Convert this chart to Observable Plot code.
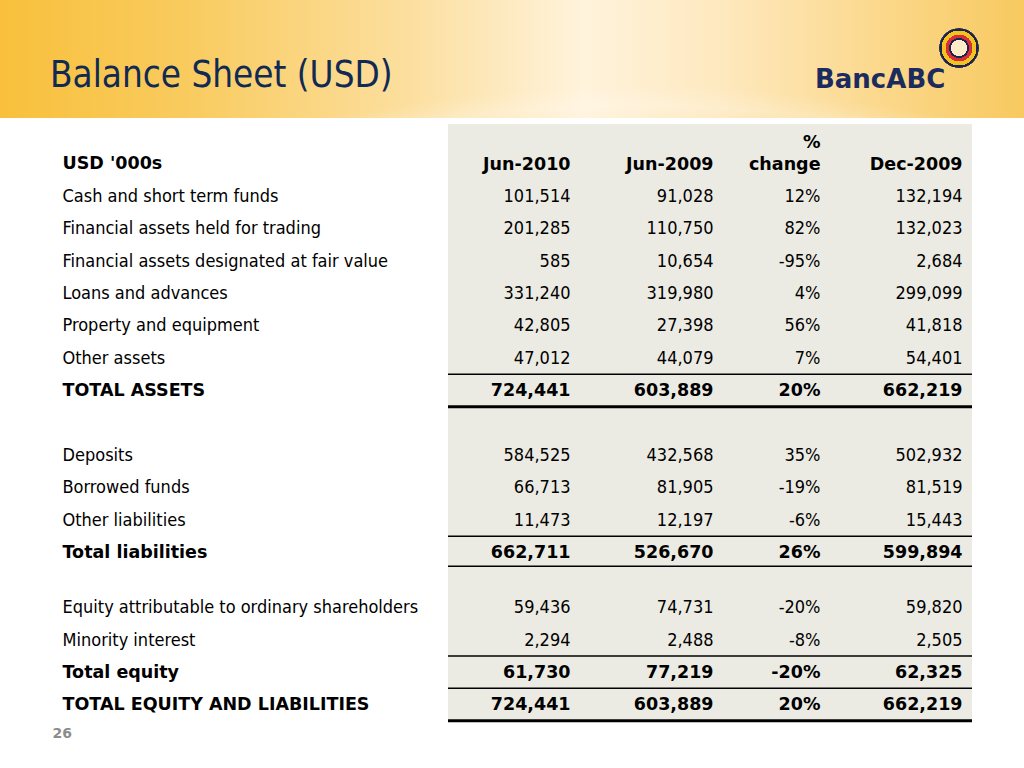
<!DOCTYPE html>
<html>
<head>
<meta charset="utf-8">
<script src="https://cdn.jsdelivr.net/npm/d3@7"></script>
<script src="https://cdn.jsdelivr.net/npm/@observablehq/plot@0.6"></script>
<style>
  body { margin: 0; background: #fff; width: 1024px; height: 768px; overflow: hidden; }
  #hdr {
    position: relative; height: 118px; overflow: hidden;
    background:
      radial-gradient(ellipse 760px 330px at 640px 390px, rgba(255,255,255,0) 82%, rgba(255,255,255,0.22) 86%, rgba(255,255,255,0) 92%),
      linear-gradient(90deg, #f8c03c 0%, #f9cb5e 18%, #fcdf9f 40%, #fff3dc 57%, #fee9c0 70%, #fbd88c 86%, #f8c95f 100%);
  }
  #title { position: absolute; left: 50px; top: 57px; font-family: 'DejaVu Sans Condensed', 'DejaVu Sans', sans-serif; font-size: 36.5px; line-height: 1; color: #102a54; white-space: nowrap; }
  #brand { position: absolute; left: 815px; top: 66px; font-family: 'DejaVu Sans', sans-serif; font-weight: bold; font-size: 26px; line-height: 1; color: #1c2b5f; white-space: nowrap; }
  #ring { position: absolute; left: 939px; top: 28px; width: 40px; height: 40px; border-radius: 50%;
    background: radial-gradient(circle, rgba(255,255,255,0.6) 0 8px, #1a2550 8px 10px, #d62e3c 10px 13.5px, #f3c21c 13.5px 17.5px, #1a2550 17.5px 20px, rgba(0,0,0,0) 20px); }
</style>
</head>
<body>
<div id="hdr">
  <div id="title">Balance Sheet (USD)</div>
  <div id="brand">BancABC</div>
  <div id="ring"></div>
</div>
<div id="chart"></div>
<script>
// ---- data ----
const unitLabel = "USD '000s";
const columns = ["Jun-2010", "Jun-2009", "% change", "Dec-2009"];
const rowLabels = [
  "Cash and short term funds",
  "Financial assets held for trading",
  "Financial assets designated at fair value",
  "Loans and advances",
  "Property and equipment",
  "Other assets",
  "TOTAL ASSETS",
  "",
  "Deposits",
  "Borrowed funds",
  "Other liabilities",
  "Total liabilities",
  "",
  "Equity attributable to ordinary shareholders",
  "Minority interest",
  "Total equity",
  "TOTAL EQUITY AND LIABILITIES"
];
const jun2010 = [101514, 201285, 585, 331240, 42805, 47012, 724441, null, 584525, 66713, 11473, 662711, null, 59436, 2294, 61730, 724441];
const jun2009 = [91028, 110750, 10654, 319980, 27398, 44079, 603889, null, 432568, 81905, 12197, 526670, null, 74731, 2488, 77219, 603889];
const pctChange = [12, 82, -95, 4, 56, 7, 20, null, 35, -19, -6, 26, null, -20, -8, -20, 20];
const dec2009 = [132194, 132023, 2684, 299099, 41818, 54401, 662219, null, 502932, 81519, 15443, 599894, null, 59820, 2505, 62325, 662219];
const grandTotals = ["TOTAL ASSETS", "TOTAL EQUITY AND LIABILITIES"];
const subTotals = ["Total liabilities", "Total equity"];
const pageNumber = "26";

// ---- build cells ----
const totals = new Set([...grandTotals, ...subTotals]);
const fmt = d3.format(",");
const series = [jun2010, jun2009, pctChange, dec2009];
const headerValues = columns.map((c, j) => ({row: 0, col: j + 1, text: c.replace(" ", "\n")}));
const labelCells = [], valueCells = [];
rowLabels.forEach((label, i) => {
  if (!label) return;
  const row = i + 1, bold = totals.has(label);
  labelCells.push({row, col: 0, text: label, bold});
  series.forEach((s, j) => {
    const v = s[i];
    if (v == null) return;
    valueCells.push({row, col: j + 1, text: columns[j] === "% change" ? `${v}%` : fmt(v), bold});
  });
});
const thinRules = [], thickRules = [];
rowLabels.forEach((label, i) => {
  if (!totals.has(label)) return;
  const row = i + 1;
  thinRules.push(row - 0.5);
  const next = rowLabels[i + 1];
  if (!next) (grandTotals.includes(label) ? thickRules : thinRules).push(row + 0.5);
});
const lastRow = rowLabels.length;
const panel = [{top: -1.2, bottom: lastRow + 0.5}];

const regular = "'DejaVu Sans Condensed', 'DejaVu Sans', sans-serif";
const boldFont = "'DejaVu Sans', sans-serif";
const span = {x1: 1, x2: 4, insetLeft: -122, insetRight: -10};
const boldStyle = {fontWeight: "bold", fontFamily: boldFont, fontSize: 17.5, fill: "#000"};

const chart = Plot.plot({
  width: 1024,
  height: 650,
  margin: 0,
  x: {type: "linear", domain: [0, 1, 2, 3, 4], range: [62, 570, 713, 820, 962], axis: null},
  y: {type: "linear", domain: [0, 12, 14, 17], range: [45, 434, 489, 586], axis: null},
  style: {fontFamily: regular, fontSize: "18px", background: "white", color: "black"},
  marks: [
    Plot.rect(panel, {...span, y1: "top", y2: "bottom", fill: "#ecebe3"}),
    Plot.ruleY(thinRules, {...span, y: d => d, stroke: "#000", strokeWidth: 1.5}),
    Plot.ruleY(thickRules, {...span, y: d => d, stroke: "#000", strokeWidth: 3}),
    // header row
    Plot.text([unitLabel], {x: 0, y: 0, text: d => d, textAnchor: "start", ...boldStyle}),
    Plot.text(headerValues, {x: "col", y: "row", text: "text", textAnchor: "end", lineAnchor: "bottom", lineHeight: 1.25, dy: 6, ...boldStyle}),
    // body
    Plot.text(labelCells.filter(d => !d.bold), {x: "col", y: "row", text: "text", textAnchor: "start", fill: "#000"}),
    Plot.text(labelCells.filter(d => d.bold), {x: "col", y: "row", text: "text", textAnchor: "start", ...boldStyle}),
    Plot.text(valueCells.filter(d => !d.bold), {x: "col", y: "row", text: "text", textAnchor: "end", fill: "#000"}),
    Plot.text(valueCells.filter(d => d.bold), {x: "col", y: "row", text: "text", textAnchor: "end", ...boldStyle}),
    Plot.text([pageNumber], {frameAnchor: "bottom-left", dx: 52, dy: -35, textAnchor: "start", lineAnchor: "middle", fill: "#8c8c8c", fontWeight: "bold", fontSize: 14, fontFamily: boldFont})
  ]
});
document.getElementById("chart").appendChild(chart);
</script>
</body>
</html>
